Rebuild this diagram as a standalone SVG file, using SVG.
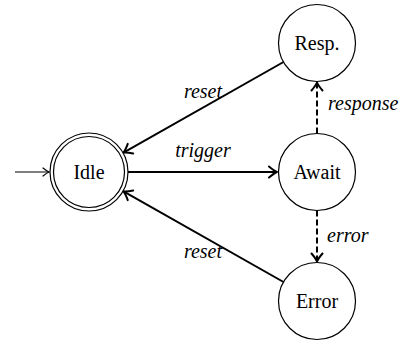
<svg xmlns="http://www.w3.org/2000/svg" width="403" height="341" viewBox="0 0 403 341">
  <style>
    .state { fill: #fff; stroke: #000; stroke-width: 1.2; }
    .name { font-size: 20px; text-anchor: middle; fill: #000; }
    .lbl { font-size: 20px; font-style: italic; fill: #000; }
    .edge { fill: none; stroke: #000; stroke-width: 2; }
    .dash { stroke-dasharray: 6 3; }
    .init { fill: none; stroke: #000; stroke-width: 1.2; }
  </style>
  <defs>
    <marker id="head" markerUnits="userSpaceOnUse" orient="auto" overflow="visible" markerWidth="10" markerHeight="10" refX="0" refY="0">
      <path d="M-8,-5.5 Q-3,-1.2 0,0 Q-3,1.2 -8,5.5" fill="none" stroke="#000" stroke-width="2" stroke-linecap="round" stroke-linejoin="round"/>
    </marker>
    <marker id="thin" markerUnits="userSpaceOnUse" orient="auto" overflow="visible" markerWidth="10" markerHeight="10" refX="0" refY="0">
      <path d="M-6,-4 Q-2,-0.8 0,0 Q-2,0.8 -6,4" fill="none" stroke="#000" stroke-width="1.2" stroke-linecap="round"/>
    </marker>
  </defs>

  <g id="connectors">
    <line class="init" x1="15" y1="172" x2="49" y2="172" marker-end="url(#thin)"/>
    <line class="edge" x1="128" y1="172" x2="277" y2="172" marker-end="url(#head)"/>
    <line class="edge" x1="283.5" y1="62" x2="123.5" y2="152.6" marker-end="url(#head)"/>
    <line class="edge" x1="283.5" y1="282" x2="123.5" y2="191.4" marker-end="url(#head)"/>
    <line class="edge dash" x1="317" y1="133.5" x2="317" y2="82.5" marker-end="url(#head)"/>
    <line class="edge dash" x1="317" y1="210.5" x2="317" y2="261.5" marker-end="url(#head)"/>
    <text class="lbl" font-family="Liberation Serif" x="203" y="157" text-anchor="middle">trigger</text>
    <text class="lbl" font-family="Liberation Serif" x="203" y="98" text-anchor="middle">reset</text>
    <text class="lbl" font-family="Liberation Serif" x="203" y="258" text-anchor="middle">reset</text>
    <text class="lbl" font-family="Liberation Serif" x="328" y="110">response</text>
    <text class="lbl" font-family="Liberation Serif" x="327" y="242">error</text>
  </g>

  <g id="idle">
    <circle class="state" cx="89" cy="172" r="39"/>
    <circle class="state" cx="89" cy="172" r="35.5"/>
    <text class="name" font-family="Liberation Serif" x="89" y="179">Idle</text>
  </g>
  <g id="await">
    <circle class="state" cx="317" cy="172" r="38.5"/>
    <text class="name" font-family="Liberation Serif" x="317" y="179">Await</text>
  </g>
  <g id="resp">
    <circle class="state" cx="317" cy="43" r="38.5"/>
    <text class="name" font-family="Liberation Serif" x="317" y="50">Resp.</text>
  </g>
  <g id="error">
    <circle class="state" cx="317" cy="301" r="38.5"/>
    <text class="name" font-family="Liberation Serif" x="317" y="308">Error</text>
  </g>
</svg>
